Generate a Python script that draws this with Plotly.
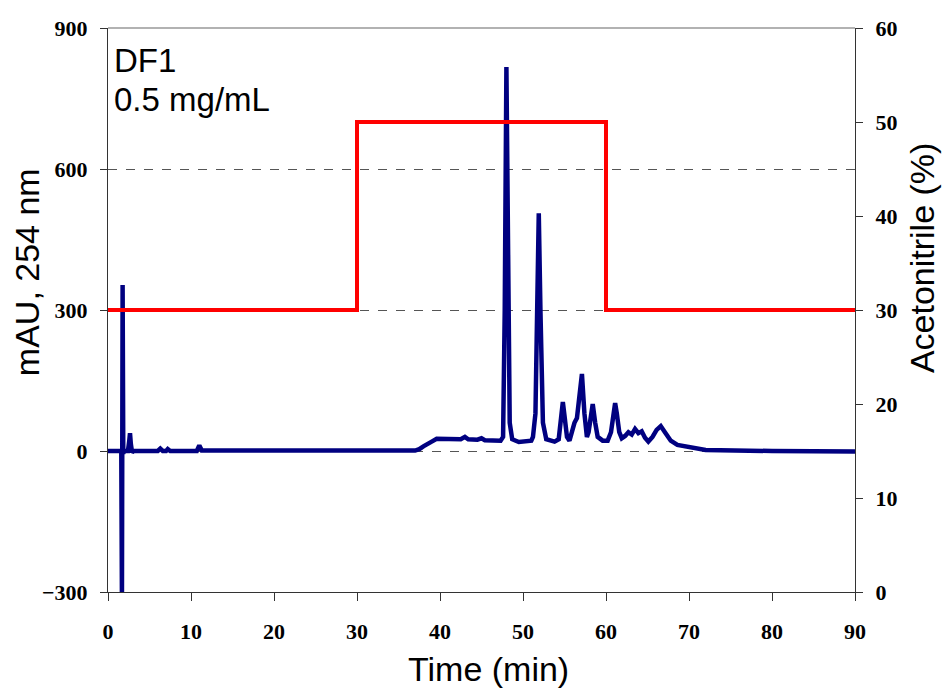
import plotly.graph_objects as go

# Chromatogram (UV absorbance at 254 nm)
time_min = [0, 1.5, 1.6, 1.68, 1.76, 1.84, 1.95, 2.4, 2.55, 2.65, 2.75, 2.9, 3.1,
            6.0, 6.3, 6.6, 7.0, 7.2, 7.5, 10.7, 11.0, 11.3,
            37.0, 37.5, 38.0, 38.5, 39.0, 39.6, 40.5, 42.5, 43.0, 43.4, 44.5, 45.0, 45.4,
            47.3, 47.6, 47.8, 48.0, 48.2, 48.4, 48.7, 49.5,
            51.0, 51.2, 51.5, 51.7, 51.9, 52.1, 52.4, 52.8, 53.8,
            54.3, 54.6, 54.8, 55.0, 55.3, 55.6, 55.9, 56.2, 56.5, 56.8, 57.1, 57.4,
            57.7, 57.9, 58.2, 58.4, 58.7, 59.0, 59.6, 60.2, 60.6, 60.9, 61.1, 61.3,
            61.6, 61.9, 62.3, 62.7, 63.1, 63.5, 63.9, 64.3, 64.7, 65.1, 65.6, 66.1,
            66.6, 67.1, 67.8, 68.6, 70.0, 71.0, 72.0, 80.0, 90.0]
mau = [0, 0, 0, -320, 353, -5, 0, 0, 20, 38, 15, -3, 0,
       0, 5, 0, 0, 4, 0, 0, 12, 1,
       1, 4, 10, 14, 20, 26, 26, 25, 30, 25, 24, 27, 23,
       22, 30, 300, 817, 330, 60, 25, 19,
       22, 30, 80, 350, 506, 300, 60, 25, 20,
       25, 70, 104, 75, 30, 22, 45, 60, 70, 120, 164, 80,
       30, 40, 85, 100, 60, 30, 22, 22, 40, 90, 102, 80,
       40, 27, 32, 40, 35, 47, 38, 42, 28, 20, 30, 45,
       53, 40, 22, 13, 9, 5, 2, 0, -1]

# Acetonitrile gradient
grad_time = [0, 30, 30, 60, 60, 90]
grad_pct = [30, 30, 50, 50, 30, 30]

x_ticks = [0, 10, 20, 30, 40, 50, 60, 70, 80, 90]
y_ticks = [-300, 0, 300, 600, 900]
y2_ticks = [0, 10, 20, 30, 40, 50, 60]

tickfont = dict(family="Liberation Serif", size=22, color="black", weight="bold")
titlefont = dict(family="Liberation Sans", size=34, color="black")

fig = go.Figure()
fig.add_trace(go.Scatter(x=grad_time, y=grad_pct, mode="lines", yaxis="y2",
                         line=dict(color="#ff0000", width=4), showlegend=False))
fig.add_trace(go.Scatter(x=time_min, y=mau, mode="lines",
                         line=dict(color="#000080", width=4.5), showlegend=False))

fig.update_layout(
    width=945, height=690,
    margin=dict(l=108, r=90, t=28, b=98),
    paper_bgcolor="white", plot_bgcolor="white",
    xaxis=dict(range=[0, 90], tickvals=x_ticks, ticks="outside", ticklen=8,
               tickcolor="#333", showline=True, linecolor="#333", linewidth=1,
               showgrid=False, zeroline=False, tickfont=tickfont,
               ticklabelstandoff=12),
    yaxis=dict(range=[-300, 900], tickvals=y_ticks, ticks="outside", ticklen=7,
               tickcolor="#333", showline=True, linecolor="#333", linewidth=1,
               showgrid=True, gridcolor="#555", griddash="dash", gridwidth=1,
               zeroline=False, tickfont=tickfont, ticklabelstandoff=8),
    yaxis2=dict(range=[0, 60], tickvals=y2_ticks, overlaying="y", side="right",
                ticks="outside", ticklen=7, tickcolor="#333", showline=True,
                linecolor="#333", linewidth=1, showgrid=False, zeroline=False,
                tickfont=tickfont, ticklabelstandoff=8),
    annotations=[
        dict(text="DF1", xref="paper", yref="paper", x=0.006, y=0.942,
             xanchor="left", yanchor="middle", showarrow=False,
             font=dict(family="Liberation Sans", size=33, color="black")),
        dict(text="0.5 mg/mL", xref="paper", yref="paper", x=0.006, y=0.8736,
             xanchor="left", yanchor="middle", showarrow=False,
             font=dict(family="Liberation Sans", size=33, color="black")),
        dict(text="Time (min)", xref="paper", yref="paper", x=0.510, y=-0.137,
             xanchor="center", yanchor="middle", showarrow=False, font=titlefont),
        dict(text="mAU, 254 nm", xref="paper", yref="paper", x=-0.1085, y=0.567,
             xanchor="center", yanchor="middle", textangle=-90, showarrow=False,
             font=titlefont),
        dict(text="Acetonitrile (%)", xref="paper", yref="paper", x=1.0897, y=0.592,
             xanchor="center", yanchor="middle", textangle=-90, showarrow=False,
             font=titlefont),
    ],
    shapes=[dict(type="line", xref="paper", yref="paper", x0=0, x1=1, y0=1, y1=1,
                 line=dict(color="#999", width=1.5))],
)

fig.write_html("out.html")
